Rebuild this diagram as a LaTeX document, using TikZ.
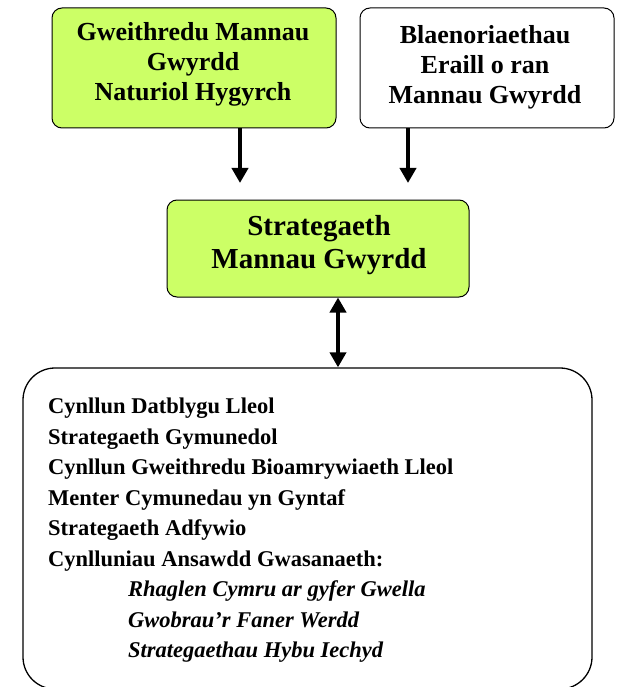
\documentclass[tikz,border=0pt]{standalone}
\usepackage{fontspec}
\setmainfont{Liberation Serif}
\usetikzlibrary{arrows.meta}
\definecolor{lime}{RGB}{204,255,102}
\begin{document}
\begin{tikzpicture}[x=1pt,y=-1pt,
  box/.style={draw=black, line width=1pt, rounded corners=10pt, inner sep=0pt},
  greenbox/.style={box, fill=lime},
  boxtext/.style={align=center, inner sep=0pt, font=\bfseries\fontsize{26}{30}\selectfont},
  arr/.style={line width=4pt, -{Triangle[width=16pt,length=15pt]}},
  darr/.style={line width=4pt, {Triangle[width=16pt,length=15pt]}-{Triangle[width=16pt,length=15pt]}}]
\useasboundingbox (0,0) rectangle (616,687);
% boxes
\node[greenbox, minimum width=284pt, minimum height=120pt] (b1) at (194,68) {};
\node[box, fill=white, minimum width=254pt, minimum height=120pt] (b2) at (487,68) {};
\node[greenbox, minimum width=302pt, minimum height=97pt] (b3) at (318,248.5) {};
\node[box, line width=1.3pt, rounded corners=32pt, minimum width=569pt, minimum height=321pt] (b4) at (307.5,528.5) {};
% texts
\node[boxtext, anchor=north] (t1) at (193,22) {Gweithredu Mannau\\Gwyrdd\\Naturiol Hygyrch};
\node[boxtext, anchor=north] (t2) at (485,25) {Blaenoriaethau\\Eraill o ran\\Mannau Gwyrdd};
\node[boxtext, anchor=north, font=\bfseries\fontsize{29}{33}\selectfont] (t3) at (319,215) {Strategaeth\\Mannau Gwyrdd};
\node[anchor=north west, align=left, inner sep=0pt, font=\fontsize{22.5}{30.5}\selectfont] (t4) at (48,398) {%
\textbf{Cynllun Datblygu Lleol}\\
\textbf{Strategaeth Gymunedol}\\
\textbf{Cynllun Gweithredu Bioamrywiaeth Lleol}\\
\textbf{Menter Cymunedau yn Gyntaf}\\
\textbf{Strategaeth Adfywio}\\
\textbf{Cynlluniau Ansawdd Gwasanaeth:}\\
\hspace*{80pt}\textbf{\textit{Rhaglen Cymru ar gyfer Gwella}}\\
\hspace*{80pt}\textbf{\textit{Gwobrau’r Faner Werdd}}\\
\hspace*{80pt}\textbf{\textit{Strategaethau Hybu Iechyd}}};
% connectors
\coordinate (e1) at (240,183);
\coordinate (e2) at (408,183);
\coordinate (dx) at (338,0);
\draw[arr] (b1.south -| e1) -- (e1);
\draw[arr] (b2.south -| e2) -- (e2);
\draw[darr] (b3.south -| dx) -- (b4.north -| dx);
\end{tikzpicture}
\end{document}
